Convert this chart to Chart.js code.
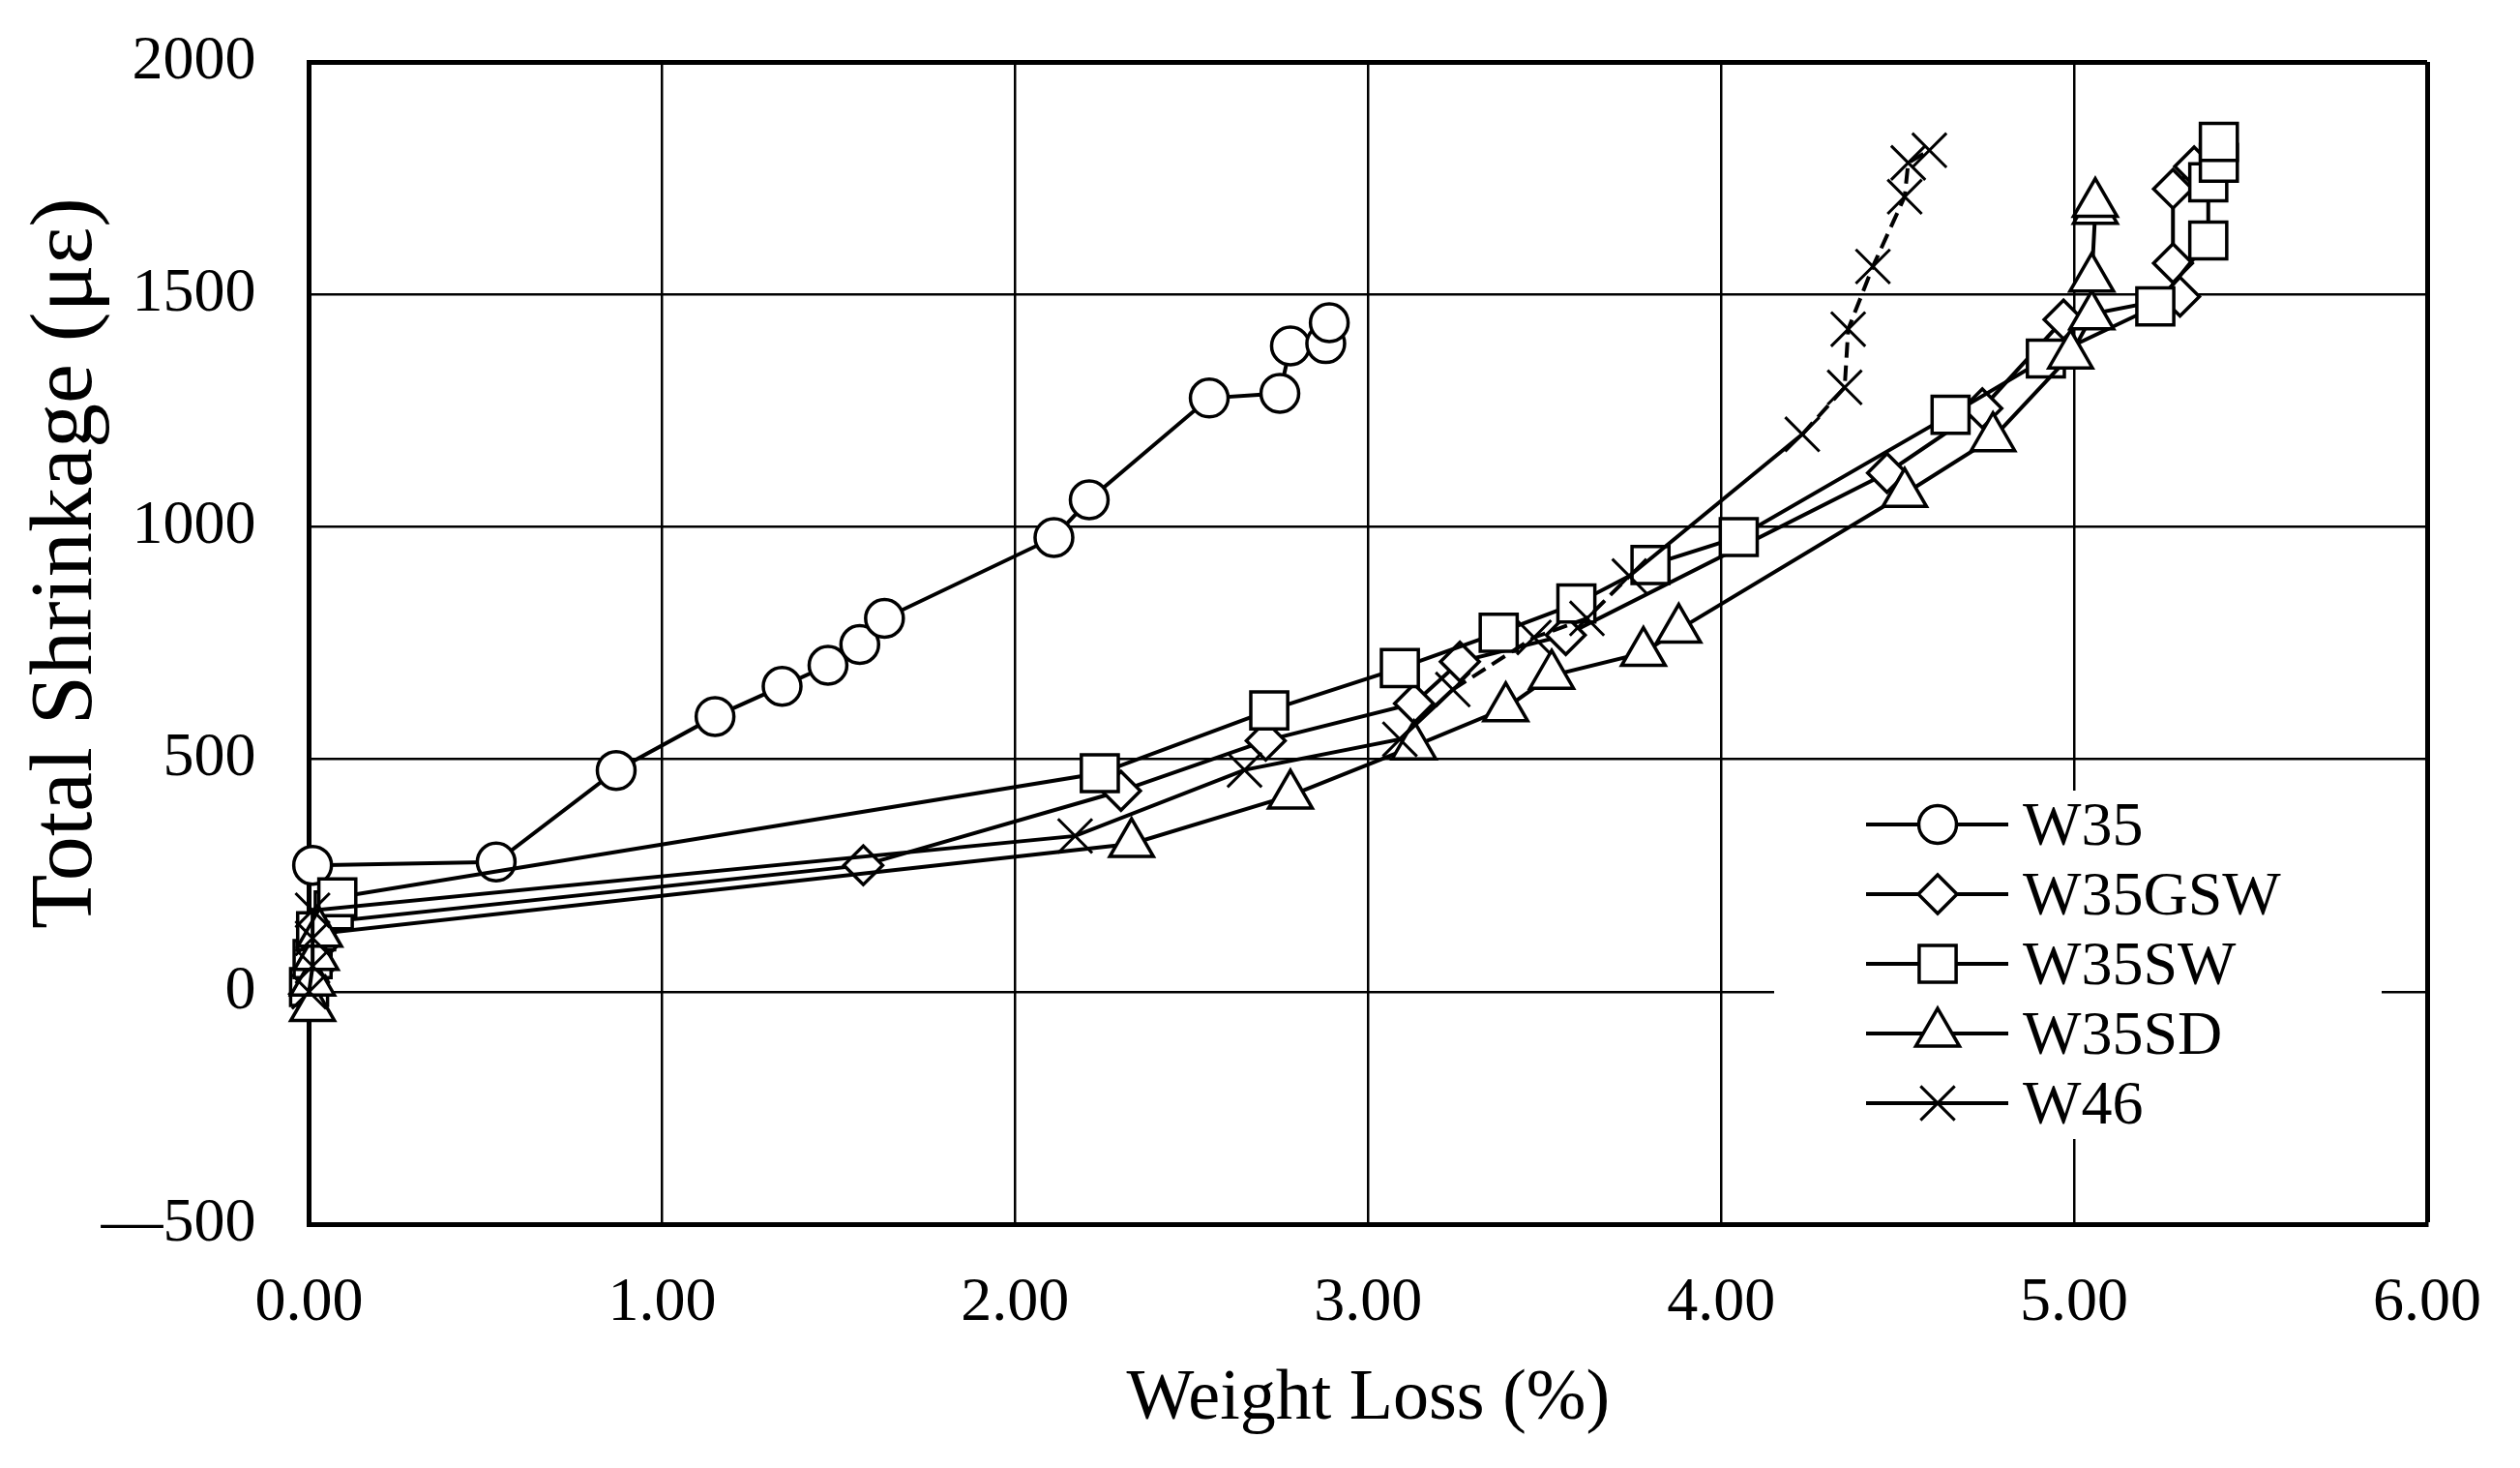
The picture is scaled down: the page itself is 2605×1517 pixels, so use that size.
<!DOCTYPE html>
<html>
<head>
<meta charset="utf-8">
<script src="https://cdn.jsdelivr.net/npm/chart.js@4.4.1/dist/chart.umd.min.js"></script>
<style>
  html, body { margin: 0; padding: 0; background: #fff; }
  canvas { display: block; }
</style>
</head>
<body>
<canvas id="chart" width="2605" height="1517"></canvas>
<script>
'use strict';

// values
const seriesNames = ['W35', 'W35GSW', 'W35SW', 'W35SD', 'W46'];

const w35Loss   = [0.01, 0.53, 0.87, 1.15, 1.34, 1.47, 1.56, 1.63, 2.11, 2.21, 2.55, 2.75, 2.78, 2.88, 2.89];
const w35Shrink = [272, 279, 476, 592, 657, 702, 747, 803, 977, 1058, 1277, 1287, 1389, 1394, 1439];

const w35gswLoss   = [0.00, 0.01, 0.02, 0.05, 1.57, 2.30, 2.71, 3.13, 3.26, 3.56, 4.47, 4.74, 4.97, 5.30, 5.28, 5.28, 5.34];
const w35gswShrink = [-5, 45, 95, 150, 272, 432, 540, 620, 710, 767, 1116, 1255, 1446, 1495, 1567, 1727, 1775];

const w35swLoss   = [0.00, 0.01, 0.02, 0.07, 0.08, 2.24, 2.72, 3.09, 3.37, 3.59, 3.80, 4.05, 4.65, 4.92, 5.23, 5.38, 5.38, 5.41, 5.41];
const w35swShrink = [10, 70, 130, 175, 203, 470, 605, 696, 772, 835, 918, 978, 1241, 1362, 1474, 1616, 1741, 1783, 1828];

const w35sdLoss   = [0.01, 0.01, 0.02, 0.03, 2.33, 2.78, 3.13, 3.39, 3.52, 3.78, 3.88, 4.52, 4.77, 4.99, 5.05, 5.05, 5.06, 5.06];
const w35sdShrink = [-35, 20, 75, 125, 318, 422, 528, 610, 680, 729, 779, 1071, 1191, 1369, 1453, 1534, 1680, 1695];

const w46Loss   = [0.00, 0.01, 0.01, 0.01, 2.17, 2.65, 3.09, 3.24, 3.47, 3.62, 3.74, 4.23, 4.35, 4.36, 4.43, 4.52, 4.53, 4.59];
const w46Shrink = [0, 55, 115, 175, 335, 477, 543, 650, 762, 803, 894, 1199, 1300, 1425, 1560, 1710, 1783, 1810];

const xTicks = [0, 1, 2, 3, 4, 5, 6];
const yTicks = [-500, 0, 500, 1000, 1500, 2000];

const FONT = "'Liberation Serif', 'Times New Roman', serif";

function toPoints(xs, ys) {
  return xs.map((x, i) => ({ x: x, y: ys[i] }));
}

function makeSeries(label, xs, ys, style, radius, order) {
  return {
    label: label,
    data: toPoints(xs, ys),
    showLine: true,
    borderColor: '#000',
    borderWidth: 4,
    pointStyle: style,
    pointRadius: radius,
    pointBorderWidth: 3.5,
    pointBorderColor: '#000',
    pointBackgroundColor: '#fff',
    tension: 0,
    clip: false,
    order: order
  };
}

const datasets = [
  makeSeries(seriesNames[0], w35Loss, w35Shrink, 'circle', 19.5, 5),
  makeSeries(seriesNames[1], w35gswLoss, w35gswShrink, 'rectRot', 20, 4),
  makeSeries(seriesNames[2], w35swLoss, w35swShrink, 'rect', 27, 3),
  makeSeries(seriesNames[3], w35sdLoss, w35sdShrink, 'triangle', 26, 2),
  makeSeries(seriesNames[4], w46Loss, w46Shrink, 'crossRot', 25, 1)
];
datasets[4].pointBorderWidth = 3;
// the W46 line is broken into dashes where its points sit close together
datasets[4].segment = {
  borderDash: ctx => {
    const x0 = ctx.p0.parsed.x;
    return (x0 >= 4.2 || (x0 >= 3.2 && x0 < 3.7)) ? [16, 8] : undefined;
  }
};

// legend box drawn inside the plot, with line + marker samples
const boxLegend = {
  id: 'boxLegend',
  afterDraw(chart) {
    const ctx = chart.ctx;
    ctx.save();
    ctx.fillStyle = '#fff';
    ctx.fillRect(1834, 817, 628, 360);
    chart.data.datasets.forEach((ds, i) => {
      const y = 852 + i * 72;
      ctx.strokeStyle = '#000';
      ctx.lineWidth = 4;
      ctx.setLineDash([]);
      ctx.beginPath();
      ctx.moveTo(1929, y);
      ctx.lineTo(2076, y);
      ctx.stroke();
      ctx.fillStyle = '#fff';
      ctx.lineWidth = ds.pointBorderWidth;
      Chart.helpers.drawPoint(ctx, {
        pointStyle: ds.pointStyle,
        radius: ds.pointRadius,
        borderWidth: ds.pointBorderWidth,
        rotation: 0
      }, 2003, y);
      ctx.fillStyle = '#000';
      ctx.font = '64px ' + FONT;
      ctx.textAlign = 'left';
      ctx.textBaseline = 'alphabetic';
      ctx.fillText(ds.label, 2091, y + 21);
    });

    // y axis title, placed as in the figure (above the axis centre)
    ctx.translate(70, 582);
    ctx.rotate(-Math.PI / 2);
    ctx.fillStyle = '#000';
    ctx.font = '92px ' + FONT;
    ctx.textAlign = 'center';
    ctx.textBaseline = 'middle';
    ctx.fillText('Total Shrinkage (\u03bc\u03b5)', 0, 0);
    ctx.restore();
  }
};

new Chart(document.getElementById('chart'), {
  type: 'scatter',
  data: { datasets: datasets },
  plugins: [boxLegend],
  options: {
    responsive: false,
    animation: false,
    devicePixelRatio: 1,
    events: [],
    layout: { padding: { left: 0, top: 64, right: 96, bottom: 0 } },
    plugins: {
      legend: { display: false },
      tooltip: { enabled: false }
    },
    scales: {
      x: {
        type: 'linear',
        min: 0,
        max: 6,
        afterBuildTicks: s => { s.ticks = xTicks.map(v => ({ value: v })); },
        afterFit: s => { s.height = 252; },
        grid: {
          color: '#000',
          lineWidth: c => (c.tick && c.tick.value === 6) ? 5 : 2.5,
          drawTicks: true,
          tickLength: 40,
          tickColor: 'rgba(0,0,0,0)'
        },
        border: { display: true, color: '#000', width: 5 },
        ticks: {
          color: '#000',
          font: { family: FONT, size: 64 },
          padding: 4,
          maxRotation: 0,
          callback: v => Number(v).toFixed(2)
        },
        title: {
          display: true,
          text: 'Weight Loss (%)',
          color: '#000',
          font: { family: FONT, size: 74 },
          padding: { top: 0, bottom: 26 }
        }
      },
      y: {
        type: 'linear',
        min: -500,
        max: 2000,
        afterBuildTicks: s => { s.ticks = yTicks.map(v => ({ value: v })); },
        afterFit: s => { s.width = 319.5; },
        grid: {
          color: '#000',
          lineWidth: c => (c.tick && c.tick.value === 2000) ? 5 : 2.5,
          drawTicks: true,
          tickLength: 50,
          tickColor: 'rgba(0,0,0,0)'
        },
        border: { display: true, color: '#000', width: 5 },
        ticks: {
          color: '#000',
          font: { family: FONT, size: 64 },
          padding: 5,
          callback: v => v < 0 ? '\u2014' + Math.abs(v) : String(v)
        }
      }
    }
  }
});
</script>
</body>
</html>
